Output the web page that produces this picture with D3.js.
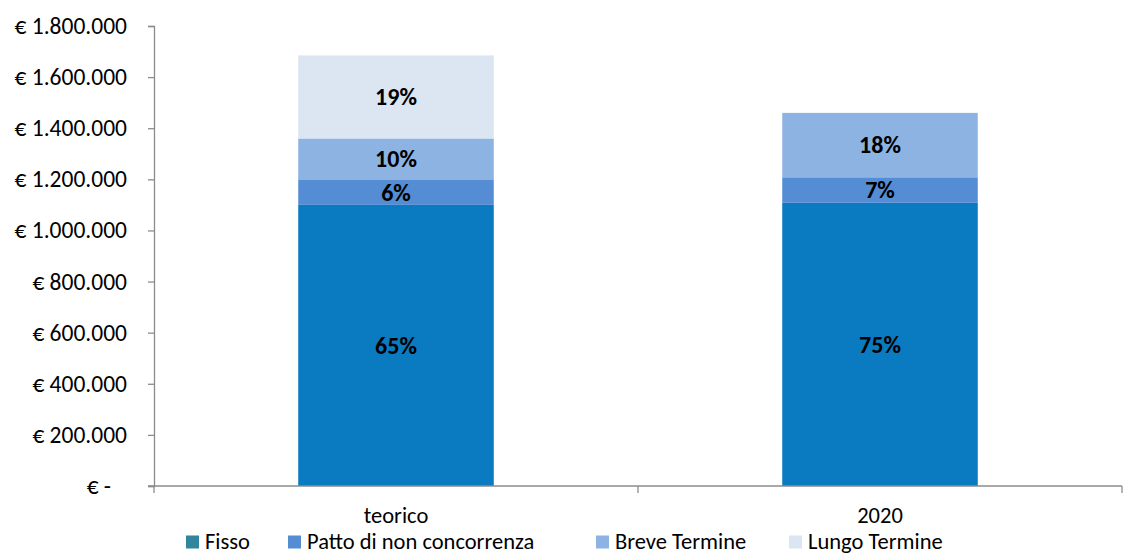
<!DOCTYPE html>
<html><head><meta charset="utf-8">
<script src="https://cdn.jsdelivr.net/npm/d3@7"></script>
<style>body{margin:0;background:#fff}svg{display:block}</style>
</head><body><svg id="c" width="1125" height="554"></svg>
<script>
const categories = ["teorico", "2020"];
const seriesNames = ["Fisso", "Patto di non concorrenza", "Breve Termine", "Lungo Termine"];
const fisso = [1100000, 1108000];
const patto = [100000, 100000];
const breve = [160000, 252000];
const lungo = [325000, 0];
const pctLabels = [["65%", "6%", "10%", "19%"], ["75%", "7%", "18%", ""]];
const yTicks = [0, 200000, 400000, 600000, 800000, 1000000, 1200000, 1400000, 1600000, 1800000];
const barColors = ["#0B7BC1", "#548DD4", "#8DB3E2", "#DCE6F2"];
const legendColors = ["#31859C", "#548DD4", "#8DB3E2", "#DCE6F2"];

const font = "Carlito, Calibri, 'Open Sans', sans-serif";
const svg = d3.select("#c");
const mLeft = 154, mRight = 1122, mTop = 26, mBottom = 486;
const x = d3.scaleBand().domain(categories).range([mLeft, mRight]).padding(0);
const y = d3.scaleLinear().domain([0, 1800000]).range([mBottom, mTop]);

const rows = categories.map((c, i) => ({cat: c, i, Fisso: fisso[i], "Patto di non concorrenza": patto[i], "Breve Termine": breve[i], "Lungo Termine": lungo[i]}));
const stack = d3.stack().keys(seriesNames)(rows);

const barW = x.bandwidth() * 0.404;
const off = (x.bandwidth() - barW) / 2;

stack.forEach((layer, k) => {
  svg.append("g").selectAll("rect").data(layer).join("rect")
    .attr("x", d => x(d.data.cat) + off)
    .attr("width", barW)
    .attr("y", d => y(d[1]))
    .attr("height", d => y(d[0]) - y(d[1]))
    .attr("fill", barColors[k]);
  svg.append("g").selectAll("text").data(layer.filter(d => d[1] > d[0])).join("text")
    .attr("x", d => x(d.data.cat) + x.bandwidth() / 2)
    .attr("y", d => (y(d[0]) + y(d[1])) / 2)
    .attr("dy", "0.35em")
    .attr("text-anchor", "middle")
    .attr("font-family", font).attr("font-weight", "bold").attr("font-size", 24)
    .attr("fill", "#000")
    .text(d => pctLabels[d.data.i][k]);
});

// Y axis
const yAxis = d3.axisLeft(y).tickValues(yTicks).tickSize(6).tickPadding(21)
  .tickFormat(v => v === 0 ? "€ -   " : "€ " + d3.format(",")(v).replace(/,/g, "."));
const gy = svg.append("g").attr("transform", `translate(${mLeft},0)`).call(yAxis);
gy.select(".domain").attr("stroke", "#8C8C8C").attr("stroke-width", 1.3);
gy.selectAll(".tick line").attr("stroke", "#8C8C8C").attr("stroke-width", 1.3);
gy.selectAll("text").attr("font-family", font).attr("font-size", 23.5).attr("fill", "#000").style("white-space", "pre");

// X axis
const gx = svg.append("g").attr("transform", `translate(0,${mBottom})`);
gx.append("line").attr("x1", mLeft - 6).attr("x2", mRight).attr("y1", 0).attr("y2", 0)
  .attr("stroke", "#8C8C8C").attr("stroke-width", 1.3);
const xTickPos = [mLeft, ...categories.map(c => x(c) + x.bandwidth())];
gx.selectAll("line.t").data(xTickPos).join("line").attr("class", "t")
  .attr("x1", d => d).attr("x2", d => d).attr("y1", 0).attr("y2", 7)
  .attr("stroke", "#8C8C8C").attr("stroke-width", 1.3);
gx.selectAll("text").data(categories).join("text")
  .attr("x", d => x(d) + x.bandwidth() / 2).attr("y", 29)
  .attr("dy", "0.35em").attr("text-anchor", "middle")
  .attr("font-family", font).attr("font-size", 22.5).attr("fill", "#000")
  .text(d => d);

// Legend
const legX = [186, 288, 596, 789];
const lg = svg.append("g").selectAll("g").data(seriesNames).join("g")
  .attr("transform", (d, i) => `translate(${legX[i]},541)`);
lg.append("rect").attr("x", 0).attr("y", -5.5).attr("width", 13).attr("height", 13)
  .attr("fill", (d, i) => legendColors[i]);
lg.append("text").attr("x", 19).attr("y", 0).attr("dy", "0.35em")
  .attr("font-family", font).attr("font-size", 22.5).attr("fill", "#000")
  .text(d => d);
</script></body></html>
